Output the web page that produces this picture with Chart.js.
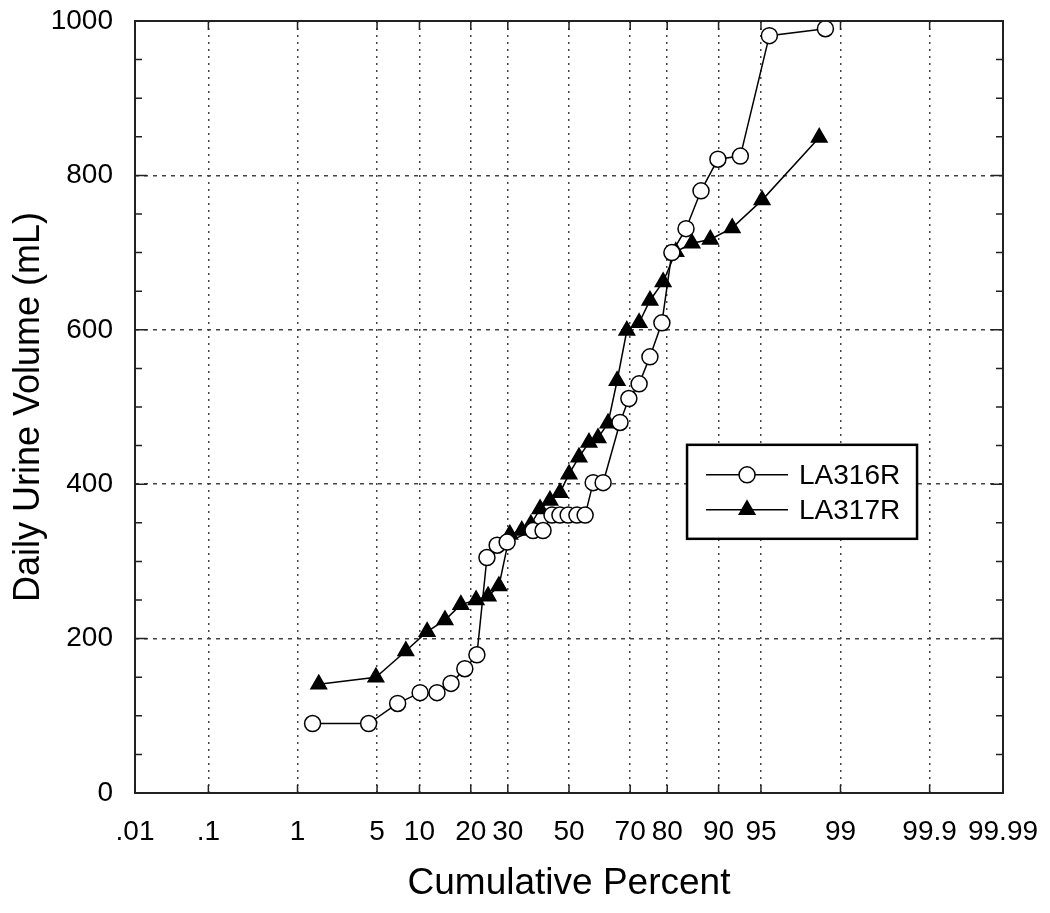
<!DOCTYPE html>
<html>
<head>
<meta charset="utf-8">
<script src="https://cdn.jsdelivr.net/npm/chart.js@4.4.0/dist/chart.umd.min.js"></script>
<style>
  html, body { margin: 0; background: #fff; }
</style>
</head>
<body>
<canvas id="chart" width="1050" height="913"></canvas>
<script>
// probability axis ticks (cumulative percent)
const tickPercents = [0.01, 0.1, 1, 5, 10, 20, 30, 50, 70, 80, 90, 95, 99, 99.9, 99.99];
const tickLabels = ['.01', '.1', '1', '5', '10', '20', '30', '50', '70', '80', '90', '95', '99', '99.9', '99.99'];

// LA316R (open circles)
const la316Percent = [1.4, 4.3, 7.1, 10.1, 12.9, 15.6, 18.6, 21.5, 24.1, 26.9, 29.8, 37.9, 41.2,
  44.2, 46.9, 49.7, 52.7, 55.5, 58.2, 61.5, 66.9, 69.6, 72.6, 75.6, 78.7, 81.1, 84.2, 87.1, 89.9,
  92.9, 95.7, 98.6];
const la316Volume = [90, 90, 116, 130, 130, 142, 161, 179, 305, 321, 325, 340, 340,
  360, 360, 360, 360, 360, 402, 402, 480, 511, 530, 565, 609, 700, 731, 780, 821,
  825, 981, 990];

// LA317R (filled triangles)
const la317Percent = [1.6, 4.9, 8.1, 11.2, 14.4, 17.7, 21.3, 24.4, 27.4, 30.6, 34.3, 37.2, 40.2,
  43.5, 46.9, 50.0, 53.4, 56.8, 59.8, 63.1, 66.0, 69.0, 72.6, 75.6, 79.0, 82.0, 85.4, 88.7,
  91.9, 95.1, 98.4];
const la317Volume = [141, 150, 184, 209, 224, 244, 250, 255, 268, 335, 340, 348, 368,
  379, 389, 413, 435, 454, 460, 479, 534, 599, 609, 638, 662, 701, 712, 717,
  732, 768, 849];

const FONT = '"Liberation Sans", Arial, Helvetica, sans-serif';

// inverse normal CDF (Acklam)
function probit(p) {
  const a = [-39.69683028665376, 220.9460984245205, -275.9285104469687, 138.3577518672690, -30.66479806614716, 2.506628274631000];
  const b = [-54.47609879822406, 161.5858368580409, -155.6989798598866, 66.80131188771972, -13.28068155288572];
  const c = [-0.007784894002430293, -0.3223964580411365, -2.400758277161838, -2.549732539343734, 4.374664141464968, 2.938163982698783];
  const d = [0.007784695709041462, 0.3224671290700398, 2.445134137142996, 3.754408661907416];
  const pl = 0.02425, ph = 1 - pl;
  let q, r;
  if (p < pl) {
    q = Math.sqrt(-2 * Math.log(p));
    return (((((c[0]*q+c[1])*q+c[2])*q+c[3])*q+c[4])*q+c[5]) / ((((d[0]*q+d[1])*q+d[2])*q+d[3])*q+1);
  }
  if (p <= ph) {
    q = p - 0.5; r = q * q;
    return (((((a[0]*r+a[1])*r+a[2])*r+a[3])*r+a[4])*r+a[5])*q / (((((b[0]*r+b[1])*r+b[2])*r+b[3])*r+b[4])*r+1);
  }
  q = Math.sqrt(-2 * Math.log(1 - p));
  return -(((((c[0]*q+c[1])*q+c[2])*q+c[3])*q+c[4])*q+c[5]) / ((((d[0]*q+d[1])*q+d[2])*q+d[3])*q+1);
}

const toPoints = (pcts, vals) => pcts.map((p, i) => ({ x: probit(p / 100), y: vals[i] }));

// box, inward ticks and legend
const framePlugin = {
  id: 'frame',
  afterDraw(chart) {
    const { ctx, chartArea: a, scales } = chart;
    ctx.save();
    ctx.strokeStyle = '#222';
    ctx.lineWidth = 2;
    ctx.setLineDash([]);
    ctx.strokeRect(a.left, a.top, a.right - a.left, a.bottom - a.top);

    ctx.lineWidth = 1.5;
    ctx.beginPath();
    tickPercents.forEach(p => {
      const x = scales.x.getPixelForValue(probit(p / 100));
      ctx.moveTo(x, a.bottom); ctx.lineTo(x, a.bottom - 8);
      ctx.moveTo(x, a.top); ctx.lineTo(x, a.top + 9);
    });
    for (let v = 0; v <= 1000; v += 50) {
      const y = scales.y.getPixelForValue(v);
      const len = v % 200 === 0 ? 12 : 7;
      ctx.moveTo(a.left, y); ctx.lineTo(a.left + len, y);
      ctx.moveTo(a.right, y); ctx.lineTo(a.right - len, y);
    }
    ctx.stroke();

    // legend
    const lx = a.left + (a.right - a.left) * 0.636;
    const ly = a.top + (a.bottom - a.top) * 0.549;
    const lw = 230, lh = 94;
    ctx.fillStyle = '#fff';
    ctx.fillRect(lx, ly, lw, lh);
    ctx.lineWidth = 2.5;
    ctx.strokeStyle = '#000';
    ctx.strokeRect(lx, ly, lw, lh);
    chart.data.datasets.forEach((ds, i) => {
      const yy = ly + 30 + i * 35;
      const mx = lx + 60;
      ctx.lineWidth = 1.5;
      ctx.strokeStyle = '#000';
      ctx.beginPath();
      ctx.moveTo(lx + 19, yy); ctx.lineTo(lx + 101, yy);
      ctx.stroke();
      ctx.fillStyle = ds.pointBackgroundColor;
      ctx.beginPath();
      if (ds.pointStyle === 'circle') {
        ctx.arc(mx, yy, ds.pointRadius, 0, Math.PI * 2);
      } else {
        const r = ds.pointRadius;
        ctx.moveTo(mx, yy - r);
        ctx.lineTo(mx + r * 0.866, yy + r / 2);
        ctx.lineTo(mx - r * 0.866, yy + r / 2);
        ctx.closePath();
      }
      ctx.fill();
      ctx.stroke();
      ctx.fillStyle = '#000';
      ctx.font = '28px ' + FONT;
      ctx.textBaseline = 'middle';
      ctx.textAlign = 'left';
      ctx.fillText(ds.label, lx + 112, yy + 1);
    });
    ctx.restore();
  }
};

new Chart(document.getElementById('chart'), {
  type: 'line',
  data: {
    datasets: [
      {
        label: 'LA316R',
        data: toPoints(la316Percent, la316Volume),
        borderColor: '#000',
        borderWidth: 1.5,
        pointStyle: 'circle',
        pointRadius: 8,
        pointBackgroundColor: '#fff',
        pointBorderColor: '#000',
        tension: 0
      },
      {
        label: 'LA317R',
        data: toPoints(la317Percent, la317Volume),
        borderColor: '#000',
        borderWidth: 1.5,
        pointStyle: 'triangle',
        pointRadius: 9,
        pointBackgroundColor: '#000',
        pointBorderColor: '#000',
        tension: 0
      }
    ]
  },
  options: {
    responsive: false,
    animation: false,
    devicePixelRatio: 1,
    layout: { padding: { left: 0, right: 47, top: 21, bottom: 0 } },
    plugins: {
      legend: { display: false },
      tooltip: { enabled: false }
    },
    scales: {
      x: {
        type: 'linear',
        min: probit(0.0001),
        max: probit(0.9999),
        afterBuildTicks: (scale) => {
          scale.ticks = tickPercents.map(p => ({ value: probit(p / 100) }));
        },
        afterFit: (scale) => {
          scale.height = 120;
          scale.paddingLeft = 0;
          scale.paddingRight = 0;
        },
        ticks: {
          autoSkip: false,
          maxRotation: 0,
          padding: 22,
          color: '#000',
          font: { family: FONT, size: 28 },
          callback: (value, index) => tickLabels[index]
        },
        grid: { color: '#444', lineWidth: 1.5, drawTicks: false },
        border: { display: false, dash: [2, 5] },
        title: {
          display: true,
          text: 'Cumulative Percent',
          color: '#000',
          font: { family: FONT, size: 37 },
          padding: { top: 0, bottom: 7 }
        }
      },
      y: {
        min: 0,
        max: 1000,
        afterFit: (scale) => {
          scale.width = 135;
          scale.paddingTop = 0;
          scale.paddingBottom = 0;
        },
        ticks: {
          stepSize: 200,
          padding: 22,
          color: '#000',
          font: { family: FONT, size: 28 },
          callback: (value) => String(value)
        },
        grid: { color: '#444', lineWidth: 1.5, drawTicks: false },
        border: { display: false, dash: [4, 5] },
        title: {
          display: true,
          text: 'Daily Urine Volume (mL)',
          color: '#000',
          font: { family: FONT, size: 36 },
          padding: { top: 7, bottom: 0 }
        }
      }
    }
  },
  plugins: [framePlugin]
});
</script>
</body>
</html>
